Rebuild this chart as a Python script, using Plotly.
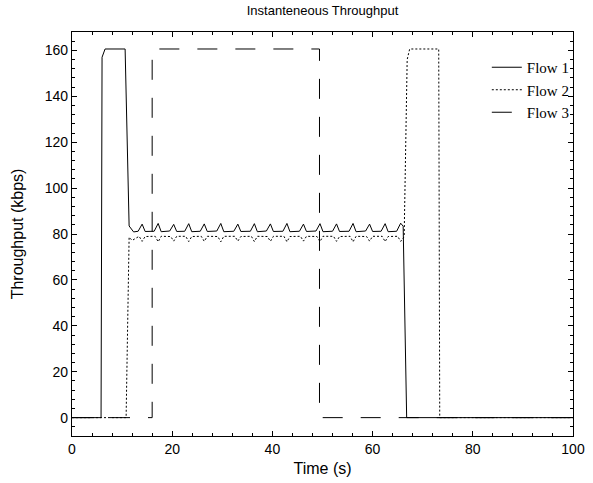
import plotly.graph_objects as go

# ---- data ----
flow1_t = [0, 5.8, 6.0, 6.6, 10.6, 11.4, 12.3,
           13.2, 14.0, 14.6,
           16.4, 17.2, 17.8,
           19.5, 20.3, 20.9,
           22.5, 23.3, 23.9,
           25.6, 26.4, 27.0,
           28.9, 29.7, 30.3,
           32.3, 33.1, 33.7,
           35.6, 36.4, 37.0,
           38.8, 39.6, 40.2,
           42.1, 42.9, 43.5,
           45.4, 46.2, 46.8,
           48.7, 49.5, 50.1,
           52.0, 52.8, 53.4,
           55.3, 56.1, 56.7,
           58.6, 59.4, 60.0,
           61.7, 62.5, 63.1,
           64.8, 65.6, 66.1, 66.8, 100]
flow1_v = [0, 0, 157.0, 160.6, 160.6, 83.5, 80.9,
           81.2, 84.3, 81.1,
           81.2, 84.6, 81.0,
           81.3, 84.2, 81.1,
           81.2, 84.5, 81.0,
           81.2, 84.4, 81.1,
           81.3, 84.6, 81.0,
           81.2, 84.3, 81.1,
           81.2, 84.5, 81.0,
           81.3, 84.4, 81.1,
           81.2, 84.6, 81.0,
           81.2, 84.3, 81.1,
           81.3, 84.5, 81.0,
           81.2, 84.4, 81.1,
           81.2, 84.6, 81.0,
           81.3, 84.3, 81.1,
           81.2, 84.5, 81.0,
           81.2, 84.7, 83.4, 0, 0]

flow2_t = [0, 10.8, 11.4, 12.0,
           13.4, 14.0, 14.6,
           16.6, 17.2, 17.8,
           19.7, 20.3, 20.9,
           22.7, 23.3, 23.9,
           25.8, 26.4, 27.0,
           29.1, 29.7, 30.3,
           32.5, 33.1, 33.7,
           35.8, 36.4, 37.0,
           39.0, 39.6, 40.2,
           42.3, 42.9, 43.5,
           45.6, 46.2, 46.8,
           48.9, 49.5, 50.1,
           52.2, 52.8, 53.4,
           55.5, 56.1, 56.7,
           58.8, 59.4, 60.0,
           61.9, 62.5, 63.1,
           65.0, 65.6, 66.3, 66.9, 67.4, 73.2, 73.4, 100]
flow2_v = [0, 0, 78.6, 77.2,
           79.0, 76.8, 78.9,
           79.0, 76.6, 79.0,
           78.9, 76.9, 79.0,
           79.0, 76.7, 78.9,
           79.0, 76.8, 79.0,
           78.9, 76.6, 79.0,
           79.0, 76.9, 78.9,
           79.0, 76.7, 79.0,
           78.9, 76.8, 79.0,
           79.0, 76.6, 78.9,
           79.0, 76.9, 79.0,
           78.9, 76.7, 79.0,
           79.0, 76.8, 78.9,
           79.0, 76.6, 79.0,
           78.9, 76.9, 79.0,
           79.0, 76.7, 78.9,
           79.0, 76.8, 78.8, 156.0, 160.6, 160.6, 0, 0]

flow3_t = [0, 16.0, 16.0, 49.4, 49.4, 100]
flow3_v = [0, 0, 160.6, 160.6, 0, 0]

series_names = ["Flow 1", "Flow 2", "Flow 3"]

fig = go.Figure()
fig.add_trace(go.Scatter(x=flow1_t, y=flow1_v, mode="lines", name=series_names[0],
                         line=dict(color="black", width=1, dash="solid")))
fig.add_trace(go.Scatter(x=flow2_t, y=flow2_v, mode="lines", name=series_names[1],
                         line=dict(color="black", width=1, dash="2px,2px")))
fig.add_trace(go.Scatter(x=flow3_t, y=flow3_v, mode="lines", name=series_names[2],
                         line=dict(color="black", width=1, dash="20px,18px")))

sans = "Liberation Sans, Arial, sans-serif"
axis_common = dict(
    showline=True, linecolor="black", linewidth=1.2, mirror="allticks",
    ticks="inside", ticklen=5, tickwidth=1, tickcolor="black",
    showgrid=False, zeroline=False, automargin=False,
    tickfont=dict(family=sans, size=14, color="black"),
)

fig.update_xaxes(range=[0, 100], dtick=20, tick0=0,
                 minor=dict(dtick=4, ticklen=3, ticks="inside", tickcolor="black", showgrid=False),
                 title=dict(text="Time (s)", font=dict(family=sans, size=16, color="black"), standoff=6),
                 **axis_common)
fig.update_yaxes(range=[-8, 168], dtick=20, tick0=0,
                 minor=dict(dtick=4, ticklen=3, ticks="inside", tickcolor="black", showgrid=False),
                 title=dict(text="Throughput (kbps)", font=dict(family=sans, size=16, color="black"), standoff=17),
                 **axis_common)

fig.update_layout(
    width=593, height=483,
    margin=dict(l=72, r=20, t=32, b=47),
    plot_bgcolor="white", paper_bgcolor="white",
    title=dict(text="Instanteneous Throughput", x=0.5, xref="paper", xanchor="center",
               y=1 - 10 / 483, yref="container", yanchor="middle",
               font=dict(family=sans, size=13, color="black")),
    legend=dict(x=0.828, xanchor="left", y=0.953, yanchor="top",
                bgcolor="rgba(0,0,0,0)", borderwidth=0,
                font=dict(family="Liberation Serif, Times New Roman, serif", size=15, color="black")),
    showlegend=True,
)

fig.write_html("out.html", config={"displayModeBar": False},
               post_script="document.body.style.margin='0';document.body.style.padding='0';")
